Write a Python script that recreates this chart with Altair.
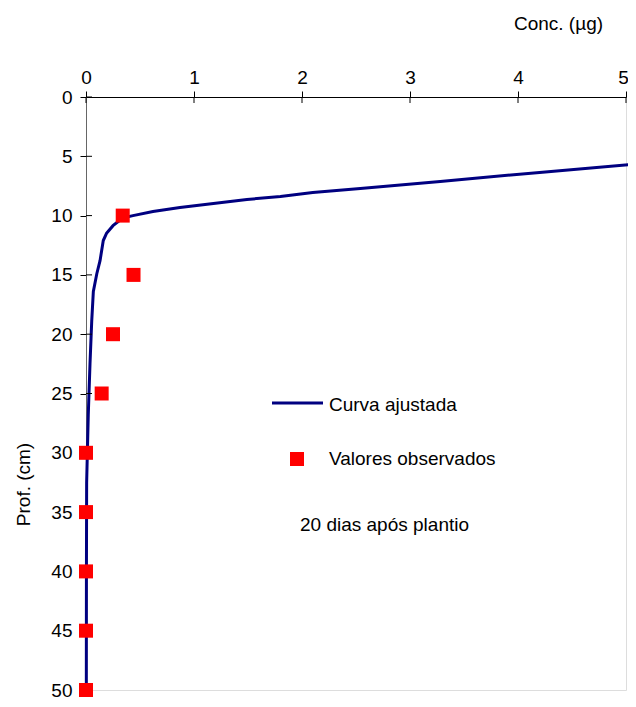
import altair as alt
import pandas as pd

# Fitted curve (concentration vs depth)
curve_depth = [5.68, 6.36, 7.12, 7.71, 8.05, 8.39, 8.64, 8.98, 9.32, 9.66, 10.0, 10.2,
               10.85, 11.5, 12.1, 13.8, 14.9, 16.4, 18.9, 22.5, 26.8, 32.5, 40.0, 50.0]
curve_conc = [5.07, 4.20, 3.28, 2.54, 2.10, 1.80, 1.49, 1.18, 0.87, 0.62, 0.435, 0.34,
              0.25, 0.19, 0.16, 0.13, 0.10, 0.068, 0.053, 0.037, 0.021, 0.006, 0.004, 0.003]

# Observed values
obs_depth = [10, 15, 20, 25, 30, 35, 40, 45, 50]
obs_conc = [0.34, 0.44, 0.25, 0.145, 0.0, 0.0, 0.0, 0.0, 0.0]

x_ticks = [0, 1, 2, 3, 4, 5]
y_ticks = [0, 5, 10, 15, 20, 25, 30, 35, 40, 45, 50]

FONT = "Liberation Sans"
FS = 19

curve_df = pd.DataFrame({"conc": curve_conc, "depth": curve_depth})
obs_df = pd.DataFrame({"conc": obs_conc, "depth": obs_depth})
xt_df = pd.DataFrame({"v": x_ticks})
yt_df = pd.DataFrame({"v": y_ticks})

xscale = alt.Scale(domain=[0, 5], nice=False, zero=False)
yscale = alt.Scale(domain=[0, 50], reverse=True, nice=False, zero=False)

xaxis = alt.Axis(orient="top", values=x_ticks, format="d", title="Conc. (µg)", grid=False,
                 labelFlush=False, labelOverlap=False,
                 labelOffset={"condition": {"test": "datum.value === 5", "value": -3}, "value": 0},
                 domainColor="#000000", tickColor="#000000", tickSize=6,
                 labelPadding=4, labelFont=FONT, labelFontSize=FS, labelColor="#000000",
                 titleFont=FONT, titleFontSize=FS, titleFontWeight="normal", titleColor="#000000",
                 titleX=472, titleY=-74, titleAlign="center", titleBaseline="middle",
                 titleAngle=0)
yaxis = alt.Axis(orient="left", values=y_ticks, format="d", title="Prof. (cm)", grid=False,
                 labelFlush=False, labelOverlap=False,
                 domainColor="#666666", tickColor="#000000", tickSize=6,
                 labelPadding=8, labelFont=FONT, labelFontSize=FS, labelColor="#000000",
                 titleFont=FONT, titleFontSize=FS, titleFontWeight="normal", titleColor="#000000",
                 titleX=-63, titleY=387, titleAlign="center", titleBaseline="middle",
                 titleAngle=270)

line = alt.Chart(curve_df).mark_line(color="#000080", strokeWidth=3, clip=False).encode(
    x=alt.X("conc:Q", scale=xscale, axis=xaxis),
    y=alt.Y("depth:Q", scale=yscale, axis=yaxis),
    order=alt.Order("depth:Q"),
)

points = alt.Chart(obs_df).mark_point(shape="square", filled=True, color="#FF0000",
                                      size=196, opacity=1, clip=False).encode(
    x=alt.X("conc:Q", scale=xscale),
    y=alt.Y("depth:Q", scale=yscale),
)

xin = alt.Chart(xt_df).mark_rule(color="#000000", strokeWidth=1).encode(
    x=alt.X("v:Q", scale=xscale), y=alt.value(0), y2=alt.value(6)
)
yin = alt.Chart(yt_df).mark_rule(color="#000000", strokeWidth=1).encode(
    y=alt.Y("v:Q", scale=yscale), x=alt.value(0), x2=alt.value(6)
)

# Legend drawn inside the plot
leg_line = alt.Chart(pd.DataFrame({"a": [0]})).mark_rule(color="#000080", strokeWidth=3).encode(
    x=alt.value(186), x2=alt.value(237), y=alt.value(306)
)
leg_sq = alt.Chart(pd.DataFrame({"a": [0]})).mark_point(shape="square", filled=True,
                                                         color="#FF0000", size=196, opacity=1).encode(
    x=alt.value(211), y=alt.value(362)
)
texts = alt.Chart(pd.DataFrame({
    "t": ["Curva ajustada", "Valores observados", "20 dias após plantio"],
    "px": [243, 243, 214],
    "py": [307.5, 361.5, 428],
})).mark_text(font=FONT, fontSize=FS, color="#000000", align="left", baseline="middle").encode(
    text="t:N", x=alt.X("px:Q", scale=None), y=alt.Y("py:Q", scale=None)
)

chart = alt.layer(line, xin, yin, points, leg_line, leg_sq, texts).properties(
    width=540, height=593,
    autosize=alt.AutoSizeParams(type="none"),
    padding={"left": 78, "top": 89, "right": 2, "bottom": 9},
).configure_view(stroke=None).configure(background="white")

chart.save("out.html", embed_options={"renderer": "svg", "actions": False})
